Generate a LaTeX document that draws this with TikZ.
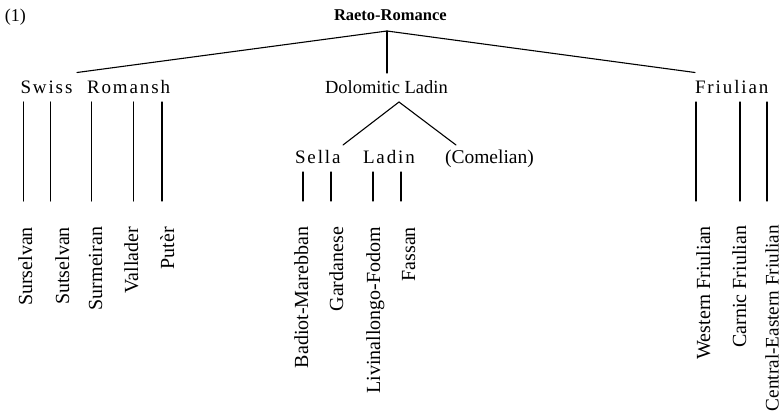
\documentclass[tikz,border=0pt]{standalone}
\usepackage{fontspec}
\setmainfont{Liberation Serif}
% letter-spaced word: kern between consecutive letters
\newcommand\lspc[1]{\lspcA#1\relax}
\def\lspcA#1#2{#1\ifx#2\relax\else\kern1.9pt\expandafter\lspcA\expandafter#2\fi}
\tikzset{
  every node/.style={inner sep=0pt, outer sep=0pt},
  branch/.style={line width=1.1pt, line cap=round},
  title/.style={font=\fontsize{16.5}{18}\bfseries\selectfont, anchor=base west},
  spaced/.style={font=\fontsize{19}{21}\selectfont, anchor=base west},
  group/.style={font=\fontsize{18.5}{21}\selectfont, anchor=base west},
  leaf/.style={font=\fontsize{20}{22}\selectfont, rotate=90, anchor=base east},
}
\begin{document}
\begin{tikzpicture}[x=1pt, y=-1pt]
\useasboundingbox (0,0) rectangle (783,418);

% labels
\node[font=\fontsize{18}{20}\selectfont, anchor=base west] (num) at (5,21) {(1)};
\node[title] (rr) at (334,20.5) {Raeto-Romance};

\node[spaced] (swiss) at (20.5,93.3) {\lspc{Swiss}};
\node[spaced] (romansh) at (87,93.3) {\lspc{Romansh}};
\node[group] (dol) at (325,93) {Dolomitic Ladin};
\node[spaced] (friul) at (695,93) {\lspc{Friulian}};

\node[spaced] (sella) at (295,163.3) {\lspc{Sella}};
\node[spaced] (ladin) at (363,163.3) {\lspc{Ladin}};
\node[font=\fontsize{19.5}{21}\selectfont, anchor=base west] (comel) at (445,163.3) {(Comelian)};

% leaves
\node[leaf] (l1) at (32,227) {Surselvan};
\node[leaf] (l2) at (69,227) {Sutselvan};
\node[leaf] (l3) at (102,227) {Surmeiran};
\node[leaf] (l4) at (138,227) {Vallader};
\node[leaf] (l5) at (174,227) {Putèr};
\node[leaf] (l6) at (308,227) {Badiot-Marebban};
\node[leaf] (l7) at (343,227) {Gardanese};
\node[leaf] (l8) at (380,227) {Livinallongo-Fodom};
\node[leaf] (l9) at (415,227) {Fassan};
\node[leaf] (l10) at (710,226) {Western Friulian};
\node[leaf] (l11) at (746,226) {Carnic Friulian};
\node[leaf, font=\fontsize{19.2}{21}\selectfont] (l12) at (778.5,225) {Central-Eastern Friulian};

% branch points
\coordinate (top) at (387,31);
\coordinate (swR) at (77,72.5);
\coordinate (dolT) at (387,73);
\coordinate (frT) at (695,72.5);
\coordinate (dolB) at (399,102);
\coordinate (selR) at (343,145);
\coordinate (comT) at (456,145);
\coordinate (low) at (0,201);

\draw[branch] (swR) -- (top) -- (frT);
\draw[branch] (top) -- (dolT);
\draw[branch] (selR) -- (dolB) -- (comT);

% vertical strokes above the leaves
\foreach \n/\x in {s1/23.5, s2/50.5, s3/91.5, s4/133.5, s5/162, f1/696, f2/740, f3/767}{
  \coordinate (\n) at (\x,102);
  \draw[branch] (\n) -- (\n |- low);
}
\foreach \n/\x in {d1/303, d2/331, d3/373, d4/401}{
  \coordinate (\n) at (\x,172);
  \draw[branch] (\n) -- (\n |- low);
}
\end{tikzpicture}
\end{document}
